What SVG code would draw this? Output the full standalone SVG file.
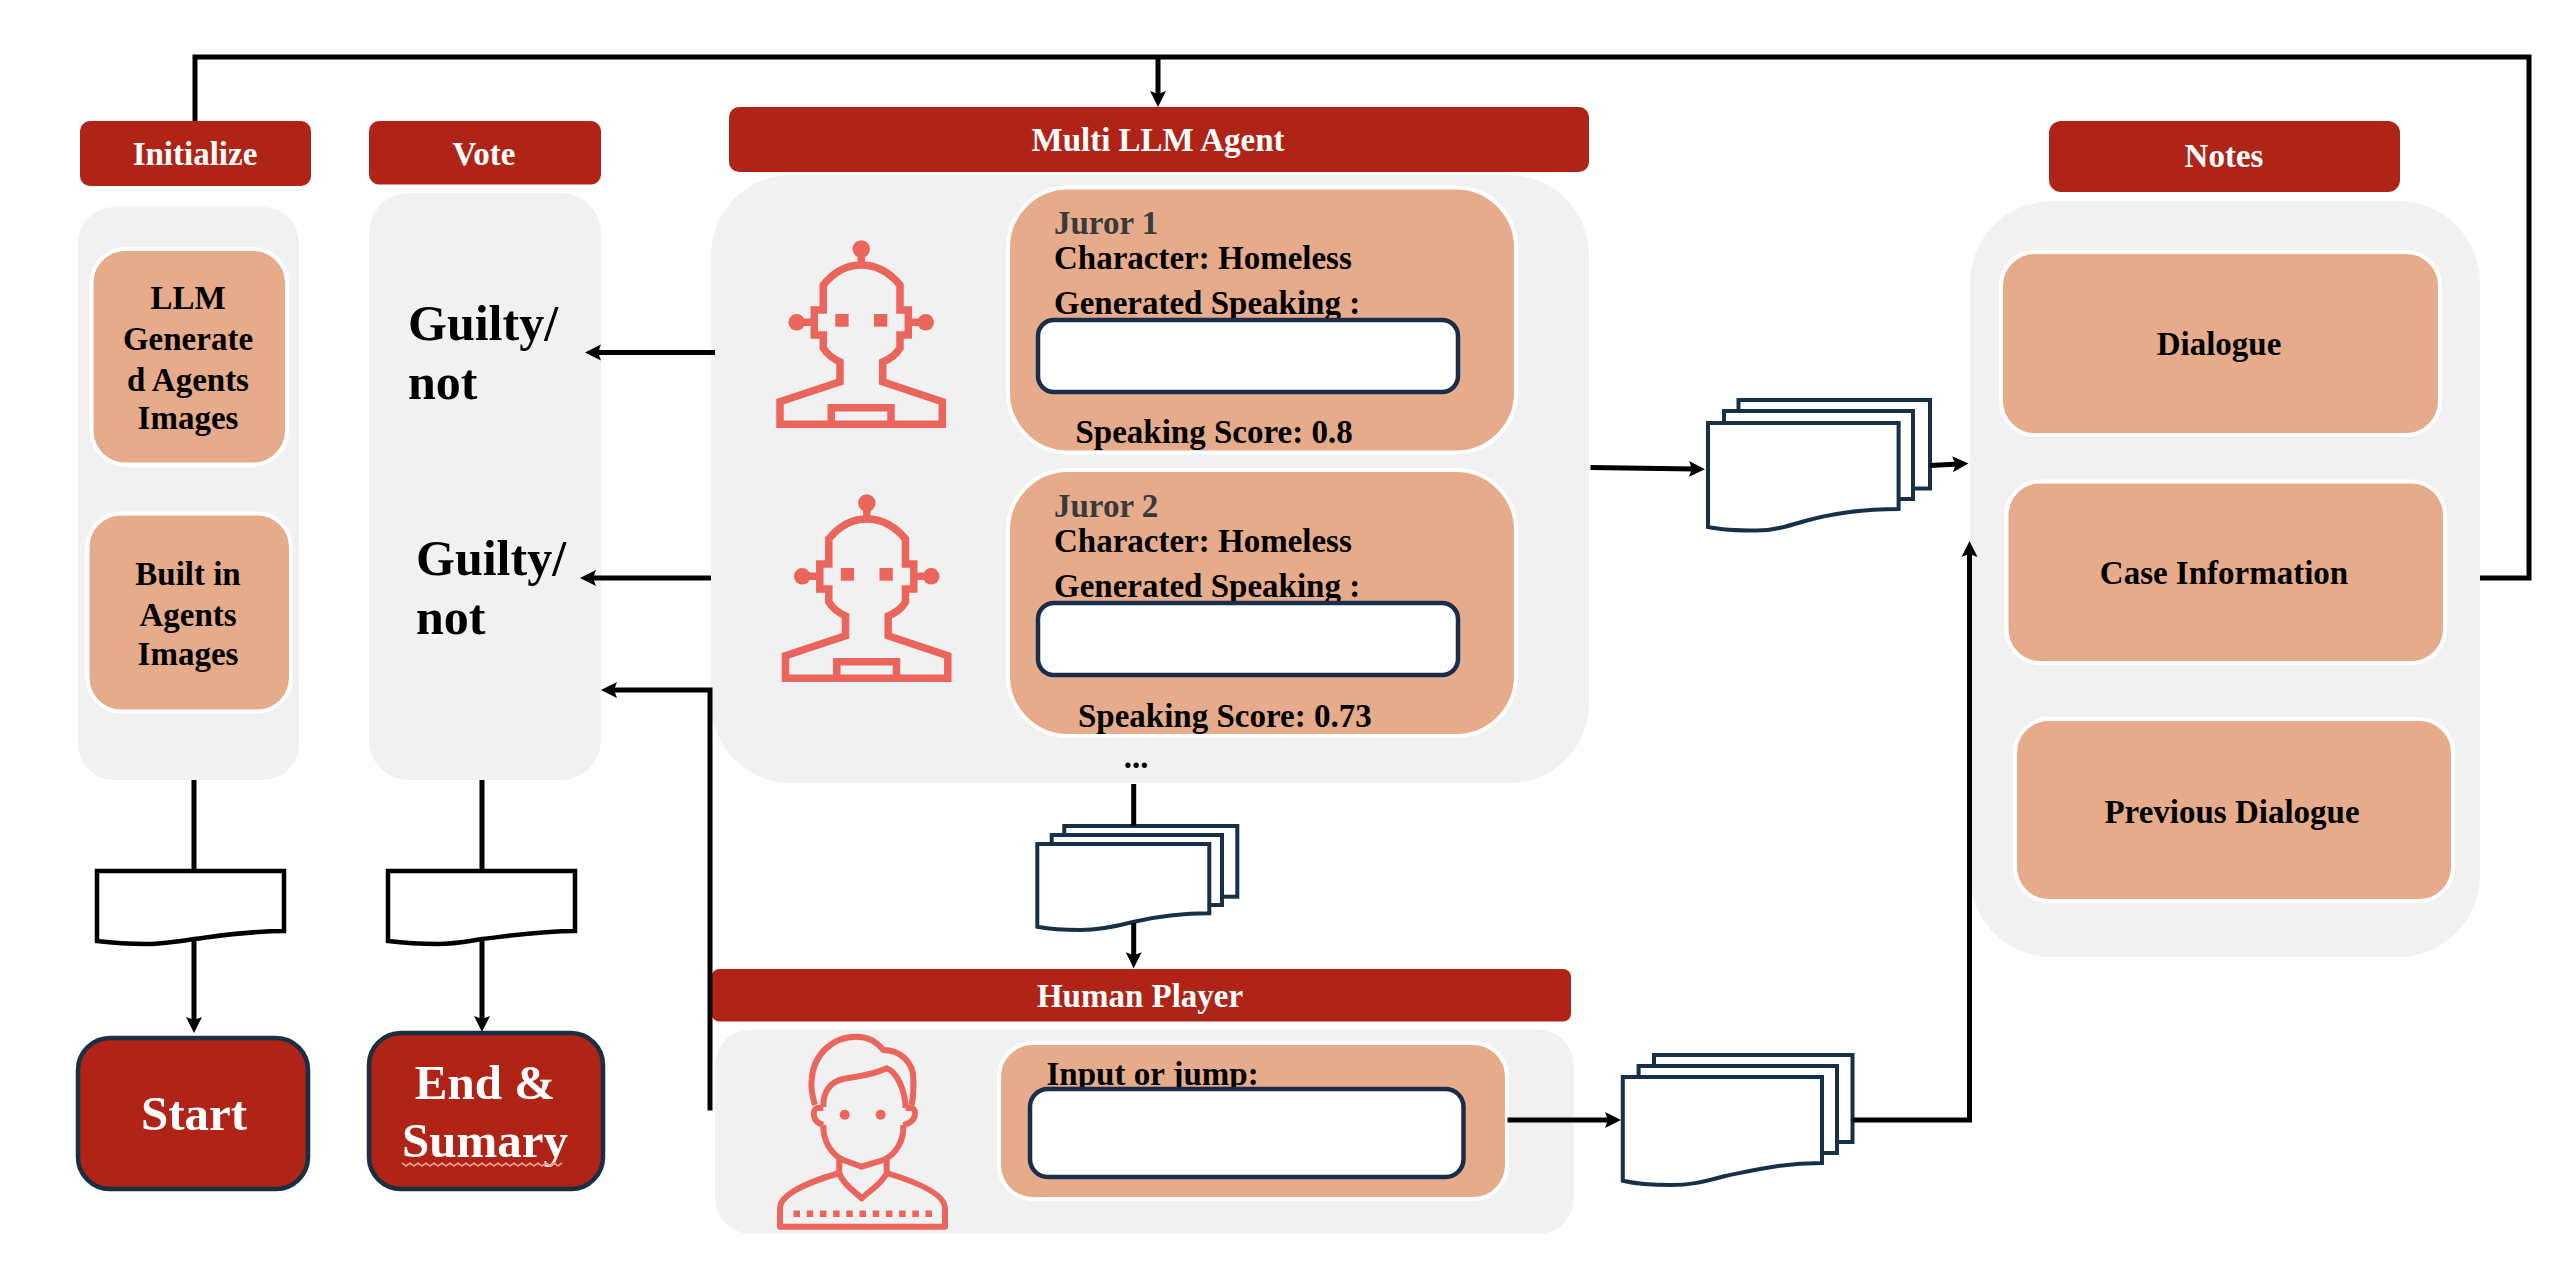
<svg xmlns="http://www.w3.org/2000/svg" width="2556" height="1264" viewBox="0 0 2556 1264">
<style>
text{font-family:"Liberation Serif","Times New Roman",serif;font-weight:700;font-size:33px;fill:#000}
.w{fill:#fff}.m{text-anchor:middle}.big{font-size:49px}.g{font-size:50px}.dk{fill:#3a3a3a}
.hdr{fill:#af2417}.panel{fill:#f1f1f1}
.box{fill:#e6ab8a;stroke:#fff;stroke-width:4}
.inp{fill:#fff;stroke:#1a2e4c;stroke-width:4.5}
.term{fill:#af2417;stroke:#1a2e44;stroke-width:4.5}
.doc{fill:#fff;stroke:#17304a;stroke-width:4}
.docb{fill:#fff;stroke:#000;stroke-width:4.5}
.ico{fill:none;stroke:#ea665c;stroke-width:7.5}
.icof{fill:#ea665c}
.c{fill:none;stroke:#000;stroke-width:5}
</style>
<defs>
<marker id="ah" markerUnits="userSpaceOnUse" markerWidth="18" markerHeight="18" refX="6" refY="9" orient="auto"><path d="M16 9 L0 1 L3 9 L0 17 Z" fill="#000"/></marker>
<g id="robot">
<circle cx="861.3" cy="249" r="8.7" class="icof"/>
<path class="ico" d="M861.3 256V265M823.3 310V285C833 273 845 265 861.3 265C878 265 890 273 900 285V310H908.3V335H900V348C897 353 890 359 882.7 362V381.7L942.3 401.7V424.3H780V401.7L840 381.7V362C833 359 826 353 823.3 348V335H814.3V310ZM814.3 322.3H800M908.3 322.3H922"/>
<circle cx="796.7" cy="322.3" r="8.3" class="icof"/>
<circle cx="925.7" cy="322.3" r="8.3" class="icof"/>
<rect x="835.3" y="314" width="13.3" height="12.7" class="icof"/>
<rect x="874" y="314" width="13.3" height="12.7" class="icof"/>
<path class="ico" d="M831.3 424V407.7H891V424"/>
</g>
</defs>

<g id="initialize">
<rect class="panel" x="78" y="207" width="221" height="573" rx="36"/>
<rect class="hdr" x="80" y="121" width="231" height="65" rx="10"/>
<text class="w m" x="195" y="164.5">Initialize</text>
</g>
<g id="llm-generated">
<rect class="box" x="91.5" y="249" width="195.5" height="215.5" rx="34"/>
<text class="m" x="188" y="309">LLM</text>
<text class="m" x="188" y="350">Generate</text>
<text class="m" x="188" y="391">d Agents</text>
<text class="m" x="188" y="429">Images</text>
</g>
<g id="built-in">
<rect class="box" x="87.5" y="513.5" width="203.5" height="198" rx="34"/>
<text class="m" x="188" y="585">Built in</text>
<text class="m" x="188" y="626">Agents</text>
<text class="m" x="188" y="665">Images</text>
</g>

<g id="vote">
<rect class="panel" x="369" y="193" width="232" height="587" rx="40"/>
<rect class="hdr" x="369" y="121" width="232" height="63.5" rx="10"/>
<text class="w m" x="484" y="164.5">Vote</text>
<text class="g" x="408" y="339.5">Guilty/</text>
<text class="g" x="408" y="399">not</text>
<text class="g" x="416" y="574.5">Guilty/</text>
<text class="g" x="416" y="633.5">not</text>
</g>

<g id="start">
<rect class="term" x="78" y="1038" width="230" height="151" rx="32"/>
<text class="w m big" x="194" y="1130">Start</text>
</g>
<g id="end-summary">
<rect class="term" x="369" y="1033" width="234" height="156" rx="32"/>
<text class="w m big" x="485" y="1099">End &amp;</text>
<text class="w m big" x="485" y="1157">Sumary</text>
<path d="M402 1163l4 3 4-3 4 3 4-3 4 3 4-3 4 3 4-3 4 3 4-3 4 3 4-3 4 3 4-3 4 3 4-3 4 3 4-3 4 3 4-3 4 3 4-3 4 3 4-3 4 3 4-3 4 3 4-3 4 3 4-3 4 3 4-3 4 3 4-3 4 3 4-3 4 3 4-3 4 3 4-3" fill="none" stroke="#ee9a90" stroke-width="1.6"/>
</g>

<g id="doc-initialize"><path class="docb" d="M97 871H284V931C250 931 225 935 194 939C175 942 162 944 147 944C130 944 113 943 97 941Z"/></g>
<g id="doc-vote"><path class="docb" d="M388 871H575V931C541 931 516 935 482 939C463 942 453 944 438 944C421 944 404 943 388 941Z"/></g>

<g id="multi-llm-agent">
<rect class="panel" x="711" y="175" width="878" height="608" rx="80"/>
<rect class="hdr" x="729" y="107" width="860" height="65" rx="10"/>
<text class="w m" x="1158" y="151">Multi LLM Agent</text>
<text class="m" x="1136" y="768">...</text>
</g>
<g id="robot-1"><use href="#robot"/></g>
<g id="juror-1">
<rect class="box" x="1008" y="187.5" width="508" height="265" rx="60"/>
<text class="dk" x="1054" y="233.5">Juror 1</text>
<text x="1054" y="269">Character: Homeless</text>
<text x="1054" y="314">Generated Speaking :</text>
<rect class="inp" x="1038" y="320" width="420" height="72" rx="16"/>
<text x="1075.5" y="443">Speaking Score: 0.8</text>
</g>
<g id="robot-2"><use href="#robot" x="5.5" y="254"/></g>
<g id="juror-2">
<rect class="box" x="1008" y="470" width="508" height="266" rx="60"/>
<text class="dk" x="1054" y="517">Juror 2</text>
<text x="1054" y="552">Character: Homeless</text>
<text x="1054" y="597">Generated Speaking :</text>
<rect class="inp" x="1038" y="603" width="420" height="72" rx="16"/>
<text x="1078" y="726.5">Speaking Score: 0.73</text>
</g>

<g id="doc-stack-agents">
<rect class="doc" x="1064.3" y="826" width="173" height="70.7"/>
<rect class="doc" x="1051.7" y="835" width="170.3" height="70"/>
<path class="doc" d="M1037.3 844H1209.3V913.3C1175 913.3 1150 918 1133 922C1110 928 1095 930 1080 930C1065 930 1050 929 1037.3 926.7Z"/>
</g>

<g id="human-player">
<rect class="panel" x="715" y="1029.5" width="859" height="204.5" rx="36"/>
<rect class="hdr" x="711.5" y="969" width="859.5" height="52.5" rx="8"/>
<text class="w m" x="1140" y="1007">Human Player</text>
<path fill="none" stroke="#ea665c" stroke-width="6" stroke-linejoin="round" d="M815 1105C811 1092 811 1085 811.7 1080C813 1055 832 1036.7 856.7 1036.7C868 1036.7 877 1042 883.3 1050C900 1050 913 1062 913.3 1078C914 1090 913 1098 911.7 1105M823.3 1107C823 1092 830 1082 843 1079C855 1076 868 1077 886.7 1068.3C897 1072 905 1090 905.7 1108M823.3 1108H817C812 1110 812 1122 823.3 1125M905.7 1108H912C917 1110 917 1122 903.3 1125M823.3 1125C823 1142 832 1155 843.3 1160L861.7 1166.7L883.3 1160C895 1155 904 1142 903.3 1125M839.3 1157V1173C842 1183 855 1192 861.7 1198.3C868 1192 883 1183 886.7 1173V1157M839.3 1173C805 1183 780 1195 780 1208V1226.7H945V1208C945 1195 920 1183 886.7 1173"/>
<circle cx="844.7" cy="1114.7" r="5" class="icof"/>
<circle cx="880.7" cy="1114.7" r="5" class="icof"/>
<path fill="none" stroke="#ea665c" stroke-width="6.5" stroke-dasharray="6.5 6.7" d="M793.5 1213.7H932.5"/>
</g>
<g id="human-input">
<rect class="box" x="999" y="1043" width="508" height="156" rx="34"/>
<text x="1046.5" y="1085">Input or jump:</text>
<rect class="inp" x="1030" y="1089" width="433.5" height="88" rx="18"/>
</g>

<g id="doc-stack-human">
<rect class="doc" x="1654" y="1055" width="198.5" height="87"/>
<rect class="doc" x="1638.6" y="1066" width="198.4" height="87"/>
<path class="doc" d="M1622.8 1077H1822V1163C1782 1163 1755 1170 1725 1176C1700 1183 1688 1185 1671 1185C1655 1185 1637 1184 1622.8 1180.7Z"/>
</g>

<g id="doc-stack-notes">
<rect class="doc" x="1738.5" y="400" width="191.5" height="88.5"/>
<rect class="doc" x="1724" y="411" width="189" height="88"/>
<path class="doc" d="M1708 423H1898.6V509C1860 509 1830 514 1805 521C1785 527 1772 530.6 1757 530.6C1740 530.6 1722 530 1708 527Z"/>
</g>

<g id="notes">
<rect class="panel" x="1970" y="201" width="510" height="756" rx="82"/>
<rect class="hdr" x="2049" y="121" width="351" height="71" rx="12"/>
<text class="w m" x="2224" y="167">Notes</text>
</g>
<g id="dialogue">
<rect class="box" x="2001" y="252" width="439" height="183" rx="34"/>
<text class="m" x="2219" y="354.5">Dialogue</text>
</g>
<g id="case-information">
<rect class="box" x="2006.5" y="481.5" width="438.5" height="181.5" rx="34"/>
<text class="m" x="2224" y="583.5">Case Information</text>
</g>
<g id="previous-dialogue">
<rect class="box" x="2015" y="719" width="438" height="182" rx="34"/>
<text class="m" x="2232" y="822.5">Previous Dialogue</text>
</g>

<g id="connectors">
<path class="c" d="M195 121V57H2529V578H2480"/>
<path class="c" marker-end="url(#ah)" d="M1158 57V97"/>
<path class="c" marker-end="url(#ah)" d="M715 352.5H595"/>
<path class="c" marker-end="url(#ah)" d="M711 578H590"/>
<path class="c" marker-end="url(#ah)" d="M710 1110.5V690H611"/>
<path class="c" d="M194 780V871"/>
<path class="c" marker-end="url(#ah)" d="M194 940V1023"/>
<path class="c" d="M482 780V871"/>
<path class="c" marker-end="url(#ah)" d="M482 940V1022"/>
<path class="c" d="M1133.7 784V826"/>
<path class="c" marker-end="url(#ah)" d="M1133.7 923V958.3"/>
<path class="c" marker-end="url(#ah)" d="M1590.5 467.5L1695 469"/>
<path class="c" marker-end="url(#ah)" d="M1930 465.6L1958.5 464"/>
<path class="c" marker-end="url(#ah)" d="M1507.5 1120H1611"/>
<path class="c" marker-end="url(#ah)" d="M1852.5 1120H1969.5V551"/>
</g>
</svg>
